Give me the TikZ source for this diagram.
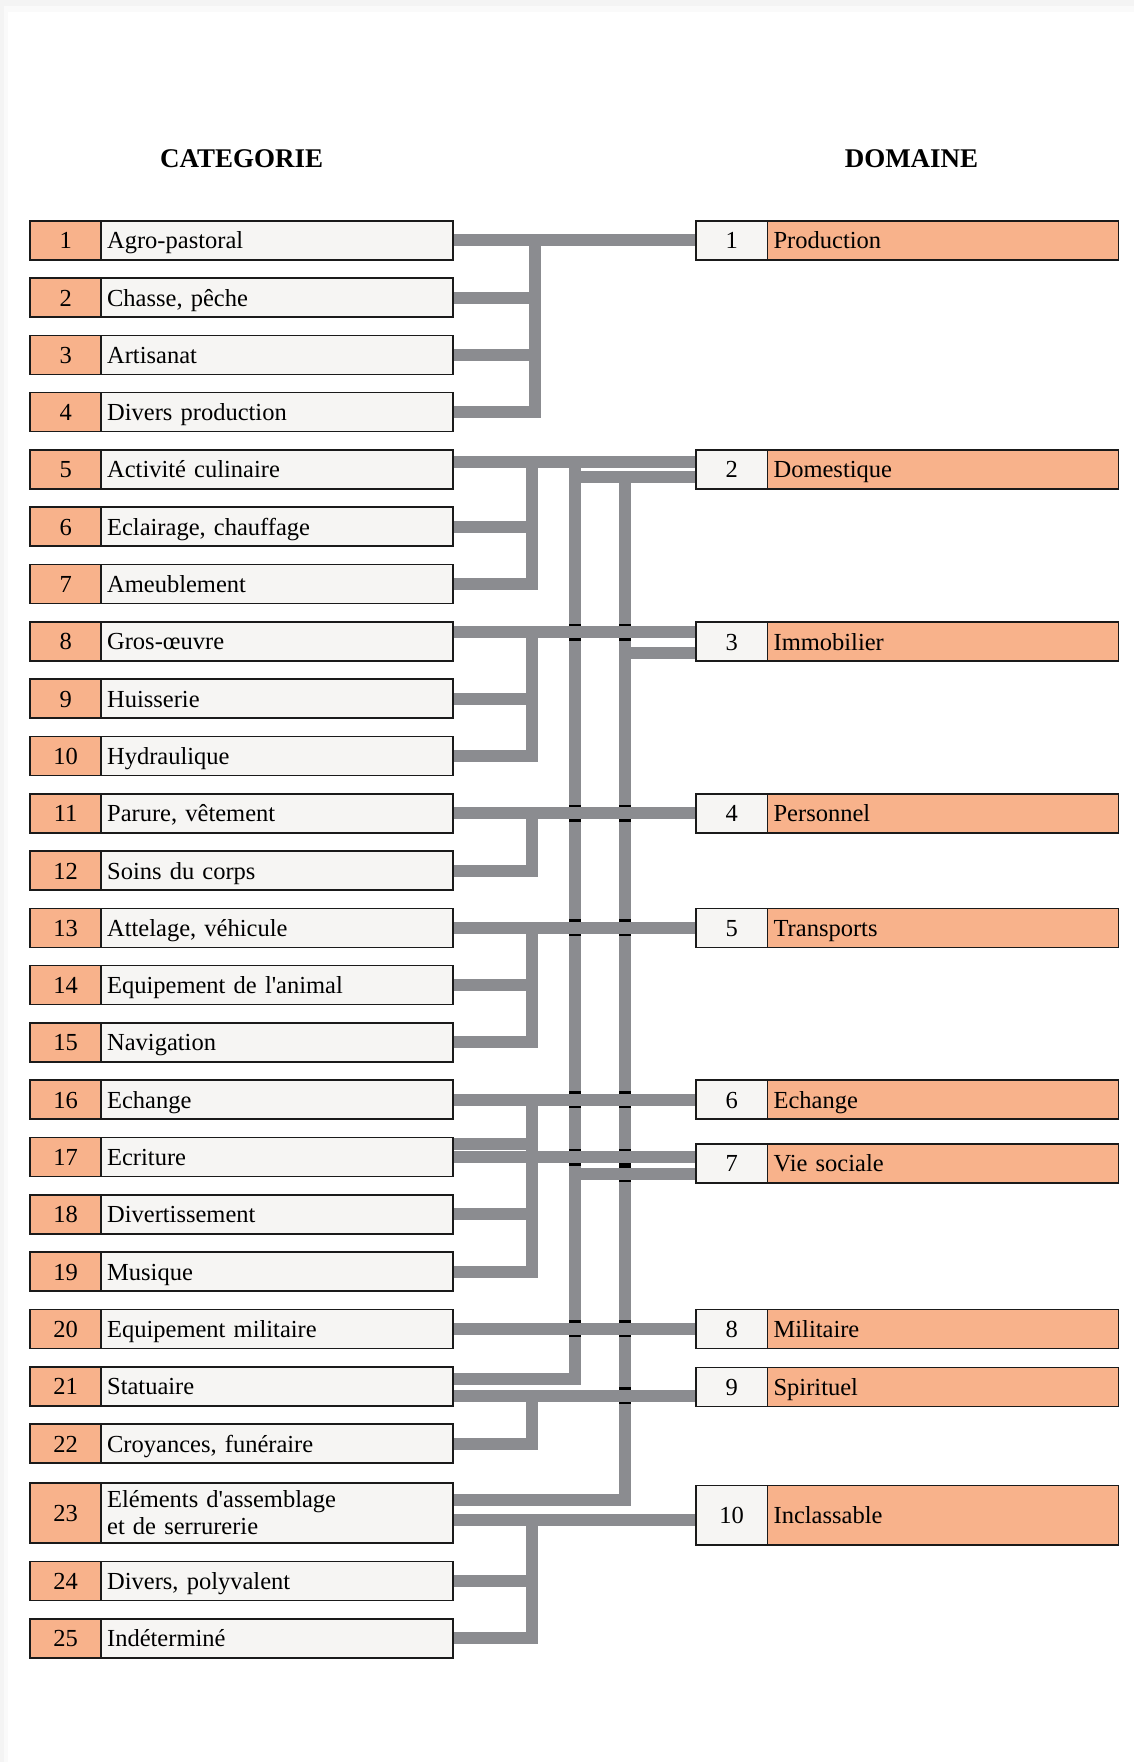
\documentclass[tikz,border=0pt]{standalone}
\usepackage{fontspec}
\setmainfont{Liberation Serif}
\usepackage{tikz}
\usetikzlibrary{positioning,backgrounds}

\definecolor{saumon}{HTML}{F8B28B}
\definecolor{creme}{HTML}{F6F5F3}
\definecolor{liaison}{HTML}{8B8C90}
\definecolor{encre}{HTML}{1A1A1A}

\begin{document}
\begin{tikzpicture}[x=1pt,y=-1pt,
  cellule/.style={draw=encre,line width=1.6pt,minimum height=39pt,inner sep=0pt,outer sep=0pt,
    text height=17pt,text depth=0pt,font=\fontsize{24.5}{26.3}\selectfont},
  numcat/.style={cellule,fill=saumon,minimum width=70.9pt},
  textcat/.style={cellule,fill=creme,inner xsep=6pt,text width=339.7pt,align=left},
  numdom/.style={cellule,fill=creme,minimum width=71.9pt},
  textdom/.style={cellule,fill=saumon,inner xsep=6pt,text width=338.7pt,align=left},
  titre/.style={font=\fontsize{27}{30}\selectfont\bfseries,inner sep=0pt},
  lien/.style={draw=liaison,line width=12pt,line join=miter},
  coupure/.style={draw=black,line width=2.5pt}]

  \useasboundingbox (0,0) rectangle (1134,1762);

  \node[titre,anchor=base] (tcat) at (241.6,167) {CATEGORIE};
  \node[titre,anchor=base] (tdom) at (911.5,167) {DOMAINE};

  % categories
  \foreach \i/\txt/\y in {1/Agro-pastoral/240.2, 2/{Chasse, pêche}/297.5,
      3/Artisanat/354.8, 4/Divers production/412.1, 5/Activité culinaire/469.4,
      6/{Eclairage, chauffage}/526.7, 7/Ameublement/584.0, 8/Gros-œuvre/641.3,
      9/Huisserie/698.6, 10/Hydraulique/755.9, 11/{Parure, vêtement}/813.2,
      12/Soins du corps/870.5, 13/{Attelage, véhicule}/927.8,
      14/Equipement de l\textquotesingle animal/985.1, 15/Navigation/1042.4,
      16/Echange/1099.7, 17/Ecriture/1157.0, 18/Divertissement/1214.3,
      19/Musique/1271.6, 20/Equipement militaire/1328.9, 21/Statuaire/1386.2,
      22/{Croyances, funéraire}/1443.5, 24/{Divers, polyvalent}/1581.0,
      25/Indéterminé/1638.3}
  {
    \node[numcat] (cn\i) at (65.7,\y) {\i};
    \node[textcat,right=0pt of cn\i] (c\i) {\txt};
  }
  \node[numcat,minimum height=60pt] (cn23) at (65.7,1512.7) {23};
  \node[textcat,minimum height=60pt,text height={},text depth={},right=0pt of cn23] (c23)
    {Eléments d\textquotesingle assemblage\\et de serrurerie};

  % domaines
  \foreach \i/\txt/\y in {1/Production/240.2, 2/Domestique/469.4, 3/Immobilier/641.5,
      4/Personnel/813.2, 5/Transports/927.8, 6/Echange/1099.7, 7/Vie sociale/1163.2,
      8/Militaire/1328.9, 9/Spirituel/1387.0}
  {
    \node[numdom] (d\i) at (731.65,\y) {\i};
    \node[textdom,right=0pt of d\i] (dt\i) {\txt};
  }
  \node[numdom,minimum height=59.3pt] (d10) at (731.65,1515.3) {10};
  \node[textdom,minimum height=59.3pt,right=0pt of d10] (dt10) {Inclassable};

  \begin{scope}[on background layer]
    % page and its shadow
    \fill[gray!9] (0,0) rectangle (1134,1762);
    \fill[gray!4] (4,6) rectangle (1134,1762);
    \fill[white] (8,12) rectangle (1134,1762);

    \coordinate (grpa) at (535,0);
    \coordinate (grp) at (532,0);
    \coordinate (busA) at (575,0);
    \coordinate (busB) at (625,0);

    \coordinate (l5) at ([yshift=7.4pt]c5.east);
    \coordinate (l8) at ([yshift=9pt]c8.east);
    \coordinate (l17) at ([yshift=12.7pt]c17.east);
    \coordinate (l21a) at ([yshift=7pt]c21.east);
    \coordinate (l21b) at ([yshift=-9.5pt]c21.east);
    \coordinate (l23a) at ([yshift=12.7pt]c23.east);
    \coordinate (l23b) at ([yshift=-7.3pt]c23.east);
    \coordinate (m2) at ([yshift=-7.6pt]d2.west);
    \coordinate (m3) at ([yshift=-11.5pt]d3.west);
    \coordinate (m7) at ([yshift=-10.5pt]d7.west);

    % long buses
    \draw[lien] (l5 -| busA) |- (l21a);
    \draw[lien] (m2 -| busB) |- (l23a);
    \draw[lien] (m2 -| busA) -- (m2);
    \draw[lien] (m3 -| busB) -- (m3);
    \draw[lien] (m7 -| busA) -- (m7);

    % groups of categories
    \draw[lien] (c4.east) -| (c1.east -| grpa);
    \foreach \r in {2,3} \draw[lien] (c\r.east) -- (c\r.east -| grpa);
    \draw[lien] (c7.east) -| (l5 -| grp);
    \draw[lien] (c6.east) -- (c6.east -| grp);
    \draw[lien] (c10.east) -| (l8 -| grp);
    \draw[lien] (c9.east) -- (c9.east -| grp);
    \draw[lien] (c12.east) -| (c11.east -| grp);
    \draw[lien] (c15.east) -| (c13.east -| grp);
    \draw[lien] (c14.east) -- (c14.east -| grp);
    \draw[lien] (c19.east) -| (c16.east -| grp);
    \foreach \r in {l17, c18.east} \draw[lien] (\r) -- (\r -| grp);
    \draw[lien] (c22.east) -| (l21b -| grp);
    \draw[lien] (c25.east) -| (l23b -| grp);
    \draw[lien] (c24.east) -- (c24.east -| grp);

    % links to the domains
    \draw[lien] (c1.east) -- (c1.east -| d1.west);
    \draw[lien] (l5) -- (l5 -| d2.west);
    \draw[lien] (l8) -- (l8 -| d3.west);
    \foreach \r/\d in {11/4, 13/5, 16/6, 17/7, 20/8}
      \draw[lien] (c\r.east) -- (c\r.east -| d\d.west);
    \draw[lien] (l21b) -- (l21b -| d9.west);
    \draw[lien] (l23b) -- (l23b -| d10.west);

    % crossings without junction
    \foreach \p in {l8, c11.east, c13.east, c16.east, c17.east, c20.east}
      \foreach \b in {busA, busB}
        \draw[coupure] ([yshift=7.25pt]\p -| \b) +(-6,0) -- +(6,0)
                       ([yshift=-7.25pt]\p -| \b) +(-6,0) -- +(6,0);
    \foreach \p in {m7, l21b}
      \draw[coupure] ([yshift=7.25pt]\p -| busB) +(-6,0) -- +(6,0)
                     ([yshift=-7.25pt]\p -| busB) +(-6,0) -- +(6,0);
  \end{scope}

\end{tikzpicture}
\end{document}
